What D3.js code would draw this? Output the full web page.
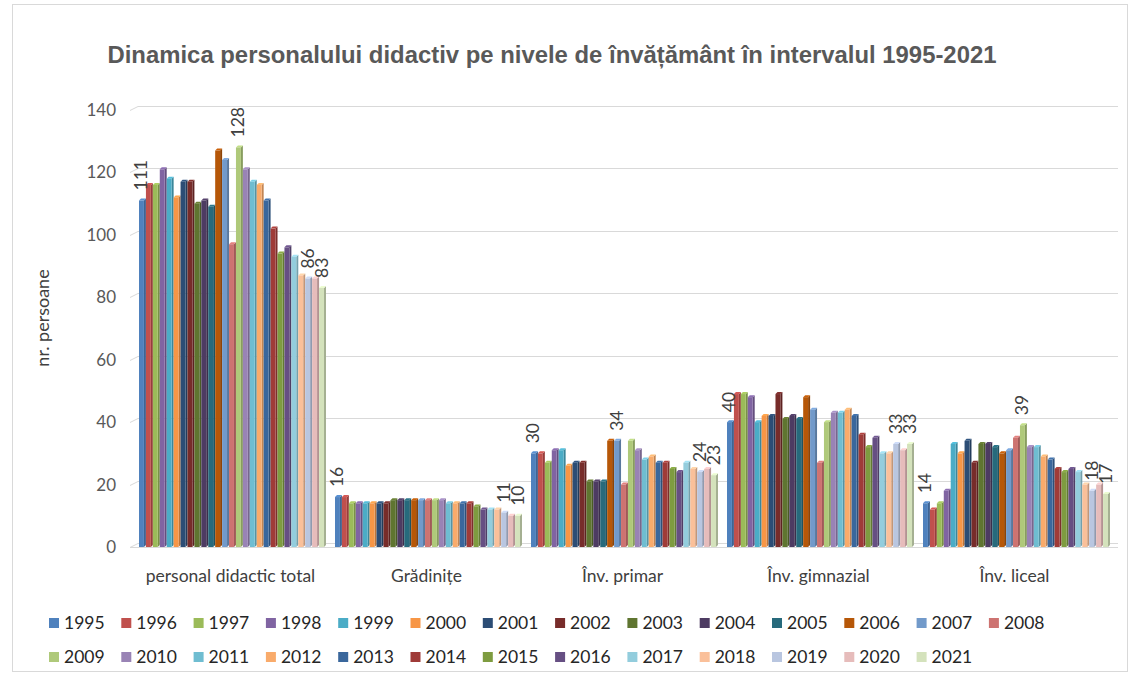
<!DOCTYPE html>
<html>
<head>
<meta charset="utf-8">
<script src="https://cdn.jsdelivr.net/npm/d3@7"></script>
<style>
  html, body { margin: 0; padding: 0; background: #ffffff; }
  svg { display: block; }
</style>
</head>
<body>
<svg id="chart" width="1138" height="676"></svg>
<script>
const categories = ["personal didactic total", "Grădinițe", "Înv. primar", "Înv. gimnazial", "Înv. liceal"];
const years = [1995,1996,1997,1998,1999,2000,2001,2002,2003,2004,2005,2006,2007,2008,2009,2010,2011,2012,2013,2014,2015,2016,2017,2018,2019,2020,2021];

// values per category, one per year (1995..2021)
const personalTotal = [111,116,116,121,118,112,117,117,110,111,109,127,124,97,128,121,117,116,111,102,94,96,93,87,86,86,83];
const gradinite     = [16,16,14,14,14,14,14,14,15,15,15,15,15,15,15,15,14,14,14,14,13,12,12,12,11,10,10];
const invPrimar     = [30,30,27,31,31,26,27,27,21,21,21,34,34,20,34,31,28,29,27,27,25,24,27,25,24,25,23];
const invGimnazial  = [40,49,49,48,40,42,42,49,41,42,41,48,44,27,40,43,43,44,42,36,32,35,30,30,33,31,33];
const invLiceal     = [14,12,14,18,33,30,34,27,33,33,32,30,31,35,39,32,32,29,28,25,24,25,24,20,18,20,17];
const seriesByCategory = [personalTotal, gradinite, invPrimar, invGimnazial, invLiceal];

// years that carry a data label, per category
const labeledYears = [
  [1995, 2009, 2019, 2021],
  [1995, 2019, 2021],
  [1995, 2007, 2019, 2021],
  [1995, 2019, 2021],
  [1995, 2009, 2019, 2021]
];

const yTicks = [0, 20, 40, 60, 80, 100, 120, 140];

const colors = ["#4F81BD","#C0504D","#9BBB59","#8064A2","#4BACC6","#F79646",
                "#2C4D75","#772C2A","#5F7530","#4D3B62","#276A7C","#B65708",
                "#729ACA","#CD7371","#AFC97A","#9983B5","#6FBDD1","#F9AB6B",
                "#3A679C","#9F3B38","#7E9C40","#664F83","#93CDDD","#FAC09A",
                "#B9C6E0","#E6BCBB","#D4E2BC"];

const title = "Dinamica personalului didactiv pe nivele de învățământ în intervalul 1995-2021";
const yTitle = "nr. persoane";

const svg = d3.select("#chart");
const FONT = "Lato, 'Open Sans', sans-serif";

// outer chart frame
svg.append("rect").attr("x", 12.5).attr("y", 4.5).attr("width", 1115).attr("height", 667)
  .attr("fill", "#fff").attr("stroke", "#d9d9d9").attr("stroke-width", 1);

const y = d3.scaleLinear().domain([0, 140]).range([547, 110]);
const x0 = d3.scaleBand().domain(categories).range([134.5, 1114.5]).paddingInner(0).paddingOuter(0);
const x1 = d3.scaleBand().domain(years).range([4.5, x0.bandwidth() - 4.5]).padding(0);
const color = d3.scaleOrdinal().domain(years).range(colors);

// title
svg.append("text")
  .attr("x", 552).attr("y", 63)
  .attr("text-anchor", "middle")
  .attr("font-family", "'Liberation Sans', Arial, sans-serif")
  .attr("font-weight", "bold")
  .attr("font-size", 23)
  .attr("fill", "#595959")
  .attr("textLength", 889)
  .attr("lengthAdjust", "spacingAndGlyphs")
  .text(title);

// gridlines (with small 3D slant at the wall start)
const grid = svg.append("g");
yTicks.forEach(t => {
  const yy = Math.round(y(t)) - 3.5;
  grid.append("path")
    .attr("d", `M130,${yy + 4} L138,${yy} L1118,${yy}`)
    .attr("fill", "none").attr("stroke", "#d9d9d9").attr("stroke-width", 1);
});

// y axis via d3 axis, styled
const yAxis = d3.axisLeft(y).tickValues(yTicks).tickSize(0).tickPadding(0);
const gy = svg.append("g").attr("transform", "translate(116,0)").call(yAxis);
gy.select(".domain").remove();
gy.selectAll("text")
  .attr("font-family", FONT)
  .attr("font-size", 17)
  .attr("fill", "#595959");

// y title
svg.append("text")
  .attr("transform", "translate(49,318) rotate(-90)")
  .attr("text-anchor", "middle")
  .attr("font-family", FONT)
  .attr("font-size", 18)
  .attr("fill", "#404040")
  .text(yTitle);

// x axis baseline
svg.append("line").attr("x1", 130).attr("x2", 1118).attr("y1", 547.5).attr("y2", 547.5)
  .attr("stroke", "#d9d9d9");

// bars
const groups = svg.append("g").selectAll("g.cat")
  .data(categories.map((c, ci) => ({ c, ci })))
  .join("g")
  .attr("class", "cat")
  .attr("transform", d => `translate(${x0(d.c)},0)`);

const depth = 2;
groups.each(function(g) {
  const sel = d3.select(this);
  const vals = seriesByCategory[g.ci];
  const data = years.map((yr, i) => ({ yr, v: vals[i] }));
  const bw = x1.bandwidth();
  const fw = bw - depth;
  data.forEach(d => {
    const bx = x1(d.yr);
    const top = y(d.v);
    const base = y(0);
    const c = d3.color(color(d.yr));
    sel.append("path")
      .attr("d", `M${bx + fw},${top} L${bx + fw + depth},${top - depth} L${bx + fw + depth},${base - depth} L${bx + fw},${base} Z`)
      .attr("fill", c.darker(0.7));
    sel.append("path")
      .attr("d", `M${bx},${top} L${bx + depth},${top - depth} L${bx + fw + depth},${top - depth} L${bx + fw},${top} Z`)
      .attr("fill", c.brighter(0.3));
    sel.append("rect")
      .attr("x", bx).attr("y", top)
      .attr("width", fw).attr("height", base - top)
      .attr("fill", c);
  });
  // data labels
  data.filter(d => labeledYears[g.ci].includes(d.yr)).forEach(d => {
    const cx = x1(d.yr) + bw / 2;
    sel.append("text")
      .attr("transform", `translate(${cx + 5},${y(d.v) - 10}) rotate(-90)`)
      .attr("text-anchor", "start")
      .attr("font-family", FONT)
      .attr("font-size", 17.5)
      .attr("fill", "#404040")
      .text(d.v);
  });
});

// category labels
svg.append("g").selectAll("text")
  .data(categories)
  .join("text")
  .attr("x", d => x0(d) + x0.bandwidth() / 2 - 2)
  .attr("y", 582)
  .attr("text-anchor", "middle")
  .attr("font-family", FONT)
  .attr("font-size", 17.5)
  .attr("fill", "#404040")
  .text(d => d);

// legend
const perRow = 14, colW = 72.3;
const legend = svg.append("g").selectAll("g")
  .data(years)
  .join("g")
  .attr("transform", (d, i) => `translate(${49 + (i % perRow) * colW},${i < perRow ? 618 : 652})`);
legend.append("rect").attr("width", 10).attr("height", 10).attr("fill", d => color(d));
legend.append("text")
  .attr("x", 15).attr("y", 11)
  .attr("font-family", FONT)
  .attr("font-size", 17.5)
  .attr("fill", "#262626")
  .text(d => d);
</script>
</body>
</html>
